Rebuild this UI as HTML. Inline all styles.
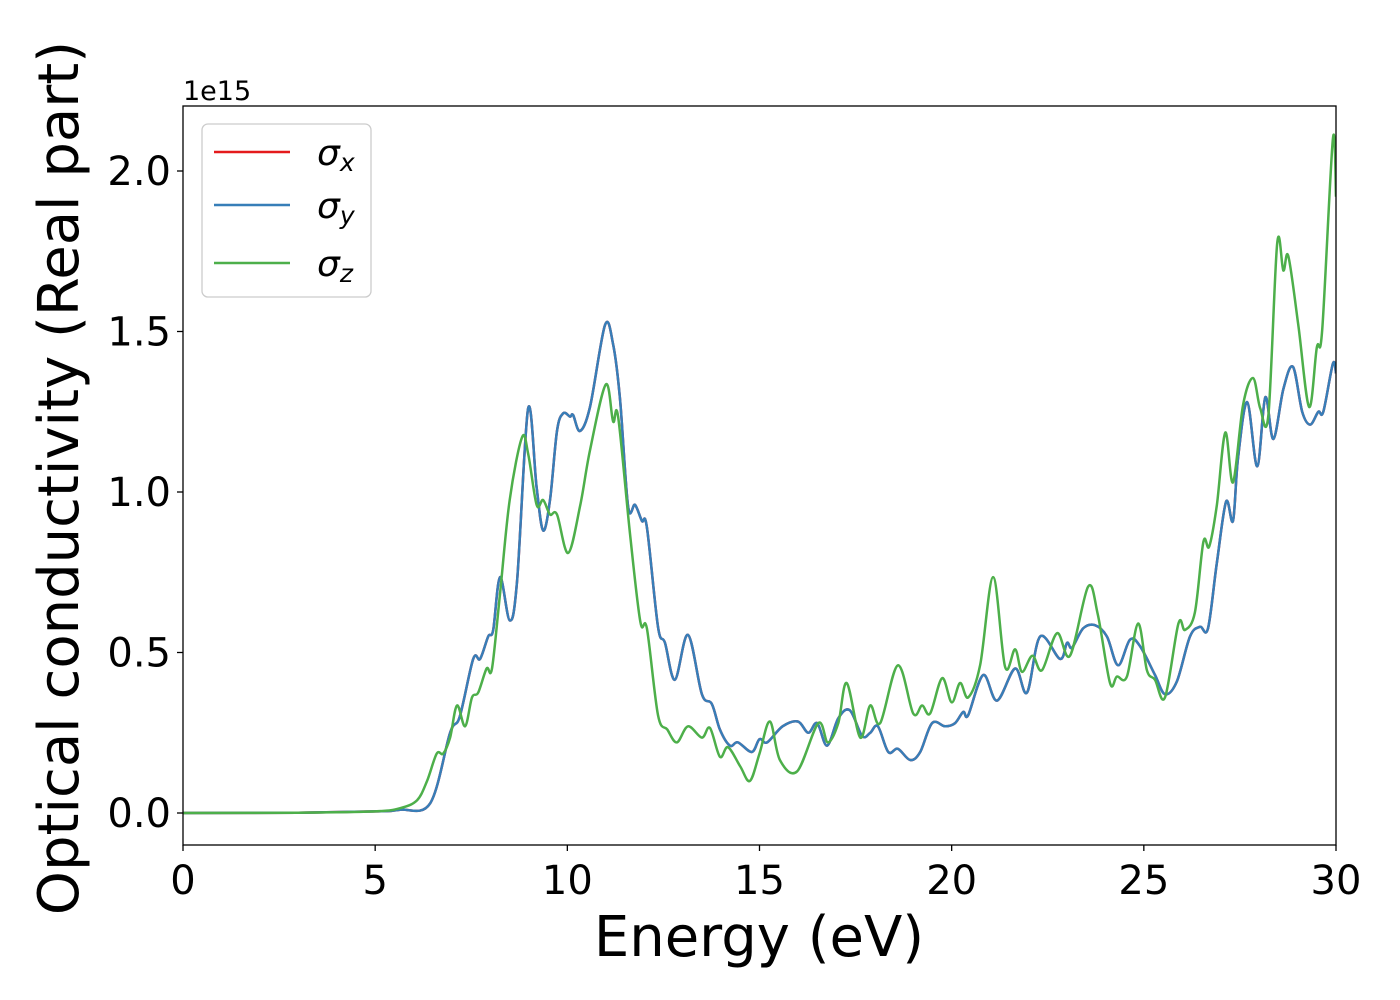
<!DOCTYPE html>
<html><head><meta charset="utf-8"><style>
html,body{margin:0;padding:0;background:#fff;}
svg{display:block;font-family:"DejaVu Sans","Liberation Sans",sans-serif;}
</style></head><body>
<svg id="chart" width="1400" height="1000" viewBox="0 0 1400 1000">
  <g id="plot"></g>
  <rect x="183" y="106" width="1153" height="739" fill="none" stroke="#000" stroke-width="1.3"/>
  <g id="xticks"></g>
  <g id="yticks"></g>
  <text x="183" y="100" font-size="27">1e15</text>
  <text x="759" y="956" font-size="56" text-anchor="middle">Energy (eV)</text>
  <text transform="translate(78,478) rotate(-90)" font-size="56" text-anchor="middle">Optical conductivity (Real part)</text>
  <g>
    <rect x="202" y="124" width="169" height="173" rx="6" fill="#fff" fill-opacity="0.8" stroke="#ccc" stroke-width="1.3"/>
    <g>
      <line x1="214" y1="152" x2="290" y2="152" stroke="#e41a1c" stroke-width="2.5"/>
      <text x="317" y="165" font-size="36" font-style="italic">σ<tspan font-size="25" dy="6">x</tspan></text>
    </g>
    <g>
      <line x1="214" y1="205" x2="290" y2="205" stroke="#377eb8" stroke-width="2.5"/>
      <text x="317" y="218" font-size="36" font-style="italic">σ<tspan font-size="25" dy="6">y</tspan></text>
    </g>
    <g>
      <line x1="214" y1="263" x2="290" y2="263" stroke="#4daf4a" stroke-width="2.5"/>
      <text x="317" y="276" font-size="36" font-style="italic">σ<tspan font-size="25" dy="6">z</tspan></text>
    </g>
  </g>
</svg>
<script>
const xTicks = [0, 5, 10, 15, 20, 25, 30];
const yTicks = [0.0, 0.5, 1.0, 1.5, 2.0];
const yTickLabels = ["0.0", "0.5", "1.0", "1.5", "2.0"];
const energyXY = [0,3,5,5.65,6.43,6.95,7.2,7.55,7.73,7.94,8.07,8.25,8.5,8.69,8.98,9.2,9.37,9.55,9.73,9.89,10.07,10.15,10.33,10.59,10.98,11.19,11.37,11.58,11.76,11.94,12.07,12.36,12.54,12.8,13.14,13.5,13.76,13.97,14.23,14.44,14.8,15.0,15.2,15.6,16.0,16.27,16.5,16.76,17.05,17.35,17.67,17.88,18.08,18.35,18.6,18.92,19.18,19.49,19.83,20.09,20.3,20.43,20.82,21.18,21.65,21.96,22.3,22.82,23.0,23.13,23.42,23.73,24.04,24.33,24.64,24.9,25.29,25.55,25.86,26.2,26.46,26.67,26.9,27.14,27.32,27.45,27.69,27.95,28.16,28.37,28.63,28.88,29.12,29.33,29.54,29.67,29.92,30];
const sigmaXY = [0,0.001,0.005,0.01,0.03,0.25,0.3,0.48,0.48,0.55,0.57,0.735,0.6,0.72,1.26,1.015,0.88,0.975,1.19,1.245,1.235,1.24,1.19,1.265,1.52,1.46,1.29,0.955,0.96,0.91,0.89,0.58,0.53,0.415,0.555,0.37,0.34,0.26,0.21,0.22,0.19,0.23,0.22,0.27,0.285,0.25,0.28,0.21,0.295,0.32,0.24,0.25,0.27,0.19,0.2,0.165,0.19,0.28,0.27,0.28,0.315,0.305,0.43,0.35,0.45,0.375,0.55,0.48,0.53,0.515,0.575,0.585,0.55,0.46,0.54,0.52,0.43,0.37,0.41,0.55,0.58,0.575,0.78,0.97,0.91,1.105,1.28,1.08,1.295,1.165,1.32,1.39,1.25,1.21,1.25,1.25,1.40,1.37];
const energyZ = [0,3,5,5.65,6.09,6.35,6.6,6.77,6.95,7.13,7.34,7.52,7.68,7.9,8.04,8.25,8.5,8.82,8.98,9.2,9.37,9.55,9.73,10.02,10.33,10.59,11.0,11.19,11.32,11.63,11.9,12.07,12.36,12.6,12.85,13.14,13.5,13.71,13.97,14.18,14.5,14.75,15.0,15.27,15.53,15.98,16.53,16.78,17.05,17.27,17.62,17.88,18.14,18.6,19.0,19.23,19.44,19.75,20.0,20.22,20.43,20.74,21.08,21.39,21.65,21.83,22.1,22.35,22.74,23.08,23.55,23.8,24.12,24.3,24.56,24.85,25.08,25.29,25.55,25.9,26.07,26.33,26.55,26.7,26.9,27.12,27.32,27.58,27.84,28.03,28.24,28.47,28.63,28.76,29.02,29.3,29.5,29.64,29.92,30];
const sigmaZ = [0,0.001,0.005,0.015,0.04,0.1,0.185,0.185,0.235,0.335,0.27,0.36,0.375,0.45,0.45,0.685,0.975,1.17,1.12,0.96,0.975,0.93,0.93,0.81,0.955,1.13,1.335,1.22,1.235,0.87,0.595,0.575,0.305,0.26,0.22,0.27,0.235,0.265,0.175,0.205,0.145,0.1,0.185,0.285,0.165,0.13,0.28,0.22,0.28,0.405,0.235,0.335,0.28,0.46,0.31,0.335,0.31,0.42,0.345,0.405,0.36,0.46,0.735,0.455,0.51,0.44,0.49,0.445,0.56,0.49,0.705,0.62,0.405,0.425,0.425,0.59,0.445,0.415,0.36,0.59,0.57,0.625,0.845,0.83,0.96,1.185,1.03,1.27,1.355,1.26,1.24,1.775,1.69,1.735,1.52,1.265,1.45,1.505,2.1,1.92];

const NS = "http://www.w3.org/2000/svg";
const X0 = 183, X1 = 1336, Y0v = 813, PXV = 321;
function xScale(e){ return X0 + (e - 0) / 30 * (X1 - X0); }
function yScale(v){ return Y0v - v * PXV; }

function smoothPath(xs, ys){
  const p = xs.map((e,i)=>[xScale(e), yScale(ys[i])]);
  let d = "M" + p[0][0].toFixed(1) + "," + p[0][1].toFixed(1);
  for(let i=0;i<p.length-1;i++){
    const a = p[i-1]||p[i], b=p[i], c=p[i+1], n=p[i+2]||c;
    const c1 = [b[0]+(c[0]-a[0])/6, b[1]+(c[1]-a[1])/6];
    const c2 = [c[0]-(n[0]-b[0])/6, c[1]-(n[1]-b[1])/6];
    d += " C"+c1[0].toFixed(1)+","+c1[1].toFixed(1)+" "+c2[0].toFixed(1)+","+c2[1].toFixed(1)+" "+c[0].toFixed(1)+","+c[1].toFixed(1);
  }
  return d;
}

const plot = document.getElementById("plot");
const clip = document.createElementNS(NS,"clipPath");
clip.setAttribute("id","clipArea");
const cr = document.createElementNS(NS,"rect");
cr.setAttribute("x",X0); cr.setAttribute("y",106); cr.setAttribute("width",X1-X0); cr.setAttribute("height",739);
clip.appendChild(cr);
document.getElementById("chart").insertBefore(clip, plot);
plot.setAttribute("clip-path","url(#clipArea)");

function addLine(xs, ys, color, name){
  const path = document.createElementNS(NS,"path");
  path.setAttribute("d", smoothPath(xs, ys));
  path.setAttribute("fill","none");
  path.setAttribute("stroke",color);
  path.setAttribute("stroke-width","2.5");
  path.setAttribute("stroke-linejoin","round");
  
  
  plot.appendChild(path);
}
addLine(energyXY, sigmaXY, "#e41a1c", "series-sigma-x");
addLine(energyXY, sigmaXY, "#377eb8", "series-sigma-y");
addLine(energyZ, sigmaZ, "#4daf4a", "series-sigma-z");

const xg = document.getElementById("xticks");
xTicks.forEach(t=>{
  const x = xScale(t);
  const l = document.createElementNS(NS,"line");
  l.setAttribute("x1",x); l.setAttribute("x2",x); l.setAttribute("y1",845); l.setAttribute("y2",851);
  l.setAttribute("stroke","#000"); l.setAttribute("stroke-width","1.3");
  
  
  xg.appendChild(l);
  const tx = document.createElementNS(NS,"text");
  tx.setAttribute("x",x); tx.setAttribute("y",894);
  tx.setAttribute("font-size","40"); tx.setAttribute("text-anchor","middle");
  tx.textContent = String(t);
  
  
  xg.appendChild(tx);
});
const yg = document.getElementById("yticks");
yTicks.forEach((t,i)=>{
  const y = yScale(t);
  const l = document.createElementNS(NS,"line");
  l.setAttribute("x1",177); l.setAttribute("x2",183); l.setAttribute("y1",y); l.setAttribute("y2",y);
  l.setAttribute("stroke","#000"); l.setAttribute("stroke-width","1.3");
  
  
  yg.appendChild(l);
  const tx = document.createElementNS(NS,"text");
  tx.setAttribute("x",171); tx.setAttribute("y",y+14);
  tx.setAttribute("font-size","40"); tx.setAttribute("text-anchor","end");
  tx.textContent = yTickLabels[i];
  
  
  yg.appendChild(tx);
});
</script>
</body></html>
